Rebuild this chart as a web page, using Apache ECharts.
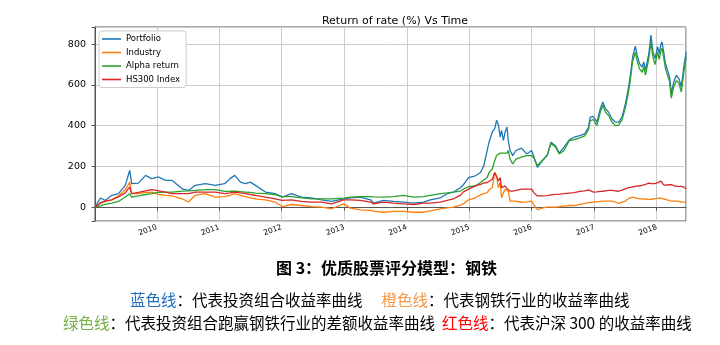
<!DOCTYPE html>
<html><head><meta charset="utf-8">
<script src="https://cdn.jsdelivr.net/npm/echarts@6/dist/echarts.min.js"></script>
<style>html,body{margin:0;padding:0;background:#fff}#c{width:720px;height:345px}</style>
</head><body><div id="c"></div>
<script>
const dates = ['2009-01-05','2009-02-06','2009-03-06','2009-04-13','2009-05-22','2009-07-01','2009-07-27','2009-08-07','2009-09-16','2009-10-27','2009-12-02',
'2010-01-12','2010-02-21','2010-04-01','2010-05-30','2010-07-05','2010-08-14','2010-10-12','2010-12-09',
'2011-02-02','2011-03-05','2011-04-02','2011-05-05','2011-06-03','2011-07-02','2011-08-01','2011-09-28','2011-11-24',
'2012-01-04','2012-02-27','2012-04-26','2012-06-23','2012-08-22','2012-10-19','2012-12-28',
'2013-02-06','2013-04-05','2013-06-03','2013-06-21','2013-08-18','2013-10-16','2013-12-13',
'2014-02-10','2014-04-09','2014-05-19','2014-07-16','2014-08-25','2014-10-01','2014-11-10','2014-11-28','2014-12-28',
'2015-02-06','2015-03-08','2015-03-27','2015-04-16','2015-04-27','2015-05-16','2015-05-30','2015-06-10','2015-06-21','2015-07-01','2015-07-09','2015-07-20','2015-07-30','2015-08-10','2015-08-17','2015-08-28','2015-09-12','2015-10-01','2015-11-03','2015-12-02',
'2016-01-01','2016-01-15','2016-02-03','2016-03-01','2016-04-01','2016-04-23','2016-05-20','2016-06-10','2016-07-08','2016-08-08','2016-09-06','2016-10-08','2016-11-06','2016-11-28','2016-12-08','2016-12-27',
'2017-01-16','2017-02-05','2017-02-20','2017-03-07','2017-03-26','2017-04-14','2017-05-04','2017-05-23','2017-06-12','2017-07-02','2017-07-17','2017-07-31','2017-08-13','2017-08-29','2017-09-08','2017-09-22','2017-10-08','2017-10-17','2017-10-27','2017-11-06','2017-11-16','2017-11-28','2017-12-10','2017-12-22',
'2018-01-06','2018-01-16','2018-01-26','2018-02-01','2018-02-09','2018-02-21','2018-03-08','2018-03-17','2018-03-27','2018-04-10','2018-04-26','2018-05-11','2018-05-25','2018-06-08','2018-06-22'];

const portfolio = [0,45,33,58,66,107,181,115,118,156,140,
148,131,131,90,82,107,115,107,
115,140,156,123,115,123,107,74,66,
49,66,49,45,36,28,41,
45,49,36,20,33,28,25,
20,25,36,45,66,74,95,110,145,
154,170,203,278,319,369,385,426,402,344,377,327,369,393,327,278,253,278,290,261,
278,245,195,225,256,319,300,265,294,330,343,351,360,392,442,445,
417,483,516,483,466,434,417,417,442,508,573,647,738,790,746,705,688,713,672,713,754,844,762,729,
787,754,800,811,770,705,664,639,557,614,647,631,590,688,762];

const industry = [0,18,28,36,55,85,123,66,66,72,74,
62,58,55,41,25,58,66,49,
52,58,66,58,52,46,41,36,25,
3,13,8,3,0,-8,16,
-5,-13,-16,-20,-25,-21,-21,
-25,-25,-18,-8,-4,0,10,16,36,
46,60,66,71,85,96,170,154,96,121,46,70,88,82,79,30,30,30,24,26,
30,10,-12,-5,0,0,0,2,5,8,8,14,18,22,23,25,
27,28,30,30,30,30,24,18,25,30,40,45,49,45,41,41,41,40,40,39,38,38,40,42,
43,44,44,42,40,38,34,30,30,30,30,28,25,25,25];

const alpha = [0,6,14,20,28,50,66,49,55,62,66,
72,74,74,79,80,82,86,86,
77,78,79,76,74,72,69,66,62,
52,52,45,41,41,41,44,
49,52,52,50,49,52,58,
49,52,58,66,70,74,79,88,100,
104,121,133,145,170,187,228,253,261,265,269,265,262,265,278,236,212,236,245,253,
253,240,203,228,253,314,294,261,278,327,331,340,350,380,425,430,
400,465,500,465,450,418,400,402,428,490,550,625,715,760,720,680,662,690,648,690,730,810,735,700,
760,725,770,780,742,680,640,615,535,590,622,608,565,660,738];

const hs300 = [0,22,30,36,50,70,99,66,72,80,86,
80,74,66,66,66,74,74,74,
66,70,74,70,66,62,58,49,41,
33,36,28,25,25,16,36,
36,33,25,16,25,20,16,
13,20,20,25,33,41,58,75,88,
104,112,118,121,130,137,170,170,129,145,96,100,104,90,82,79,79,82,88,88,
88,70,55,55,57,60,63,64,66,69,71,77,80,85,80,74,
75,77,78,80,82,82,80,78,84,90,94,97,100,102,103,105,107,110,112,115,118,116,115,115,
120,124,128,120,110,107,110,112,110,106,102,102,102,98,90];

const seriesNames = ['Portfolio','Industry','Alpha return','HS300 Index'];
const seriesValues = [portfolio, industry, alpha, hs300];
const seriesColors = ['#1f77b4','#ff7f0e','#2ca02c','#d62728'];
const yTickStep = 200;

const chart = echarts.init(document.getElementById('c'), null, {renderer:'canvas'});
const DAY = 86400000;
chart.setOption({
  animation: false,
  backgroundColor: '#fff',
  title: {
    text: 'Return of rate (%) Vs Time',
    left: 390, top: 11, textAlign: 'center',
    textStyle: {fontFamily: 'DejaVu Sans', fontSize: 11, fontWeight: 'normal', color: '#000'}
  },
  legend: {
    data: seriesNames,
    orient: 'vertical',
    left: 99, top: 31,
    icon: 'rect', itemWidth: 19, itemHeight: 1.6, itemGap: 3.5,
    backgroundColor: '#fff', borderColor: '#cccccc', borderWidth: 1, borderRadius: 3,
    padding: [3, 6, 3, 3],
    textStyle: {fontFamily: 'DejaVu Sans', fontSize: 8.5, color: '#000', lineHeight: 10}
  },
  grid: {left: 95, top: 27, width: 591, height: 194, show: true, borderColor: '#555', borderWidth: 1, containLabel: false},
  xAxis: {
    type: 'time',
    min: '2009-01-05', max: '2018-06-21',
    minInterval: 365 * DAY, maxInterval: 366 * DAY,
    axisLine: {lineStyle: {color: '#555', width: 1}},
    axisTick: {show: true, length: 3.5, lineStyle: {color: '#555'}},
    splitLine: {show: true, lineStyle: {color: '#cccccc', width: 1}},
    axisLabel: {formatter: '{yyyy}', rotate: 20, fontSize: 7.5, fontFamily: 'DejaVu Sans', color: '#000', margin: 6, hideOverlap: false}
  },
  yAxis: {
    type: 'value', min: -68, max: 884, splitNumber: 5,
    axisLine: {show: true, lineStyle: {color: '#555', width: 1}},
    axisTick: {show: true, length: 3.5, lineStyle: {color: '#555'}},
    splitLine: {show: true, lineStyle: {color: '#cccccc', width: 1}},
    axisLabel: {
      fontSize: 9.5, fontFamily: 'DejaVu Sans', color: '#000', margin: 9,
      formatter: v => (Math.abs(v % yTickStep) < 1e-6 ? String(v) : '')
    }
  },
  series: seriesNames.map((name, k) => ({
    name, type: 'line', showSymbol: false, symbol: 'none',
    lineStyle: {width: 1.3, color: seriesColors[k]},
    itemStyle: {color: seriesColors[k]},
    data: dates.map((d, i) => [d, seriesValues[k][i]])
  })),
  graphic: [
    {type: 'text', left: 276, top: 260, style: {
      text: '图 3：优质股票评分模型：钢铁',
      font: 'bold 16px "Noto Sans CJK SC"', fill: '#000'}},
    {type: 'text', left: 130, top: 292, style: {
      text: '{b|蓝色线}{k|：代表投资组合收益率曲线　 }{o|橙色线}{k|：代表钢铁行业的收益率曲线}',
      rich: {
        b: {fill: '#1f6fc0', font: '15.5px "Noto Sans CJK SC"'},
        o: {fill: '#f39a4b', font: '15.5px "Noto Sans CJK SC"'},
        k: {fill: '#000', font: '15.5px "Noto Sans CJK SC"'}
      }}},
    {type: 'text', left: 63, top: 315, style: {
      text: '{g|绿色线}{k|：代表投资组合跑赢钢铁行业的差额收益率曲线  }{r|红色线}{k|：代表沪深 300 的收益率曲线}',
      rich: {
        g: {fill: '#77b043', font: '15.5px "Noto Sans CJK SC"'},
        r: {fill: '#ff0000', font: '15.5px "Noto Sans CJK SC"'},
        k: {fill: '#000', font: '15.5px "Noto Sans CJK SC"'}
      }}}
  ]
});
</script></body></html>
